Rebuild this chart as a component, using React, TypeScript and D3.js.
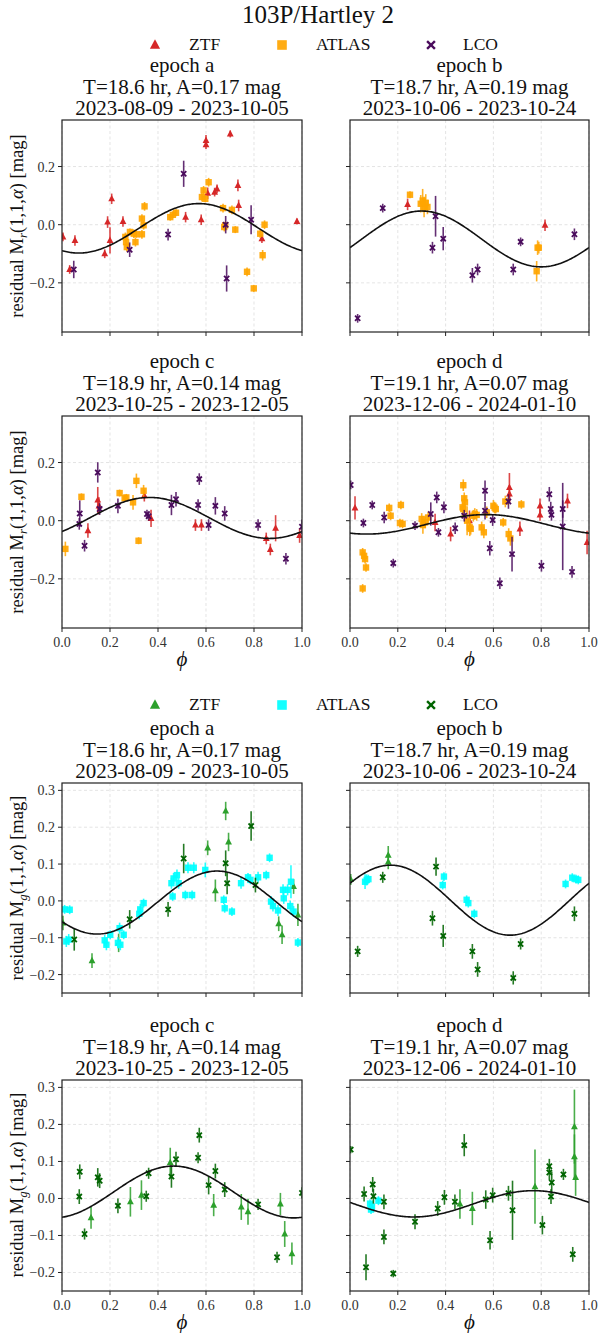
import React from "react";
import * as d3 from "d3";

type Pt = [number, number, number]; // phase, residual mag, error

// ---------- labels ----------
const suptitle = "103P/Hartley 2";
const instruments = ["ZTF", "ATLAS", "LCO"];
const epochNames = ["epoch a", "epoch b", "epoch c", "epoch d"];
const periodLabels = [
  "T=18.6 hr, A=0.17 mag",
  "T=18.7 hr, A=0.19 mag",
  "T=18.9 hr, A=0.14 mag",
  "T=19.1 hr, A=0.07 mag",
];
const dateLabels = [
  "2023-08-09 - 2023-10-05",
  "2023-10-06 - 2023-10-24",
  "2023-10-25 - 2023-12-05",
  "2023-12-06 - 2024-01-10",
];
const xTicks = [0, 0.2, 0.4, 0.6, 0.8, 1.0];
const rYTicks = [-0.2, 0.0, 0.2];
const gYTicks = [-0.2, -0.1, 0.0, 0.1, 0.2, 0.3];
const rYDomain = [-0.369, 0.36];
const gYDomain = [-0.25, 0.32];
const rColors = ["#d62728", "#ffa500", "#4a0b5c"];
const gColors = ["#2ca02c", "#00ffff", "#006400"];

// ---------- model parameters (offset, peak-to-peak amplitude, phase of maximum) ----------
const rModelOffset = [-0.0125, -0.049, 0.0095, -0.0125];
const rModelAmp = [0.17, 0.192, 0.141, 0.067];
const rModelPeak = [0.57, 0.3, 0.365, 0.57];
const gModelOffset = [-0.0045, 0.002, 0.0175, -0.0145];
const gModelAmp = [0.171, 0.19, 0.14, 0.071];
const gModelPeak = [0.646, 0.17, 0.465, 0.767];

// ---------- r band data ----------
const rA_ZTF: Pt[] = [
  [0.004, -0.042, 0.015], [0.032, -0.154, 0.015], [0.054, -0.054, 0.018], [0.178, -0.1, 0.015],
  [0.19, 0.009, 0.02], [0.2, -0.054, 0.045], [0.207, 0.089, 0.018], [0.254, 0.011, 0.018],
  [0.515, 0.026, 0.018], [0.58, 0.017, 0.018], [0.6, 0.29, 0.018], [0.6, 0.275, 0.015],
  [0.607, 0.108, 0.02], [0.636, 0.112, 0.015], [0.646, 0.123, 0.015], [0.701, 0.312, 0.012],
  [0.733, 0.135, 0.02], [0.736, 0.066, 0.02], [0.833, -0.048, 0.015], [0.979, 0.011, 0.01],
];
const rA_ATLAS: Pt[] = [
  [0.264, -0.042, 0.015], [0.267, -0.06, 0.015], [0.27, -0.077, 0.015], [0.283, -0.025, 0.012],
  [0.299, -0.031, 0.015], [0.306, -0.06, 0.015], [0.31, -0.033, 0.012], [0.333, 0.021, 0.015],
  [0.333, -0.033, 0.015], [0.34, -0.002, 0.015], [0.344, 0.063, 0.015], [0.451, 0.026, 0.012],
  [0.462, 0.034, 0.012], [0.475, 0.041, 0.012], [0.583, 0.095, 0.015], [0.59, 0.118, 0.015],
  [0.597, 0.089, 0.012], [0.611, 0.146, 0.015], [0.671, 0.057, 0.015], [0.676, -0.008, 0.015],
  [0.68, -0.002, 0.012], [0.708, 0.051, 0.015], [0.722, -0.017, 0.012], [0.771, -0.162, 0.015],
  [0.799, -0.219, 0.012], [0.826, -0.031, 0.015], [0.836, -0.105, 0.018], [0.844, 0.0, 0.015],
];
const rA_LCO: Pt[] = [
  [0.049, -0.154, 0.03], [0.282, -0.086, 0.025], [0.442, -0.034, 0.02], [0.507, 0.175, 0.045],
  [0.682, 0.0, 0.03], [0.686, -0.185, 0.045], [0.788, 0.017, 0.05],
];
const rB_ZTF: Pt[] = [[0.241, 0.07, 0.02], [0.816, -0.002, 0.02]];
const rB_ATLAS: Pt[] = [
  [0.251, 0.103, 0.012], [0.296, 0.072, 0.03], [0.304, 0.083, 0.04], [0.31, 0.061, 0.035],
  [0.317, 0.075, 0.03], [0.324, 0.061, 0.025], [0.785, -0.079, 0.025], [0.79, -0.079, 0.02],
  [0.781, -0.16, 0.035],
];
const rB_LCO: Pt[] = [
  [0.032, -0.322, 0.015], [0.137, 0.057, 0.015], [0.345, -0.079, 0.02], [0.358, 0.029, 0.07],
  [0.39, -0.048, 0.04], [0.512, -0.174, 0.025], [0.534, -0.154, 0.02], [0.683, -0.154, 0.02],
  [0.714, -0.059, 0.015], [0.939, -0.033, 0.02],
];
const rC_ZTF: Pt[] = [
  [0.108, -0.034, 0.025], [0.149, 0.071, 0.045], [0.154, 0.051, 0.03], [0.343, 0.086, 0.02],
  [0.371, 0.008, 0.03], [0.556, -0.015, 0.02], [0.581, -0.015, 0.02], [0.851, -0.061, 0.02],
  [0.868, -0.099, 0.02], [0.89, -0.026, 0.045], [0.99, -0.051, 0.025],
];
const rC_ATLAS: Pt[] = [
  [0.014, -0.097, 0.025], [0.081, 0.082, 0.012], [0.24, 0.095, 0.012], [0.261, 0.077, 0.012],
  [0.268, 0.08, 0.012], [0.296, 0.063, 0.025], [0.31, 0.137, 0.025], [0.319, -0.069, 0.012],
  [0.34, 0.103, 0.02],
];
const rC_LCO: Pt[] = [
  [0.072, -0.011, 0.02], [0.074, 0.025, 0.045], [0.094, -0.086, 0.02], [0.149, 0.166, 0.035],
  [0.157, 0.04, 0.02], [0.233, 0.051, 0.025], [0.354, 0.023, 0.015], [0.361, 0.015, 0.015],
  [0.456, 0.054, 0.035], [0.475, 0.074, 0.025], [0.567, 0.054, 0.02], [0.572, 0.143, 0.02],
  [0.611, -0.015, 0.02], [0.639, 0.051, 0.03], [0.678, 0.025, 0.025], [0.817, -0.015, 0.02],
  [0.933, -0.131, 0.02], [1.0, -0.021, 0.025],
];
const rD_ZTF: Pt[] = [
  [0.021, 0.044, 0.04], [0.356, -0.006, 0.03], [0.421, -0.046, 0.025], [0.5, 0.0, 0.035],
  [0.667, 0.114, 0.05], [0.667, 0.092, 0.03], [0.711, -0.028, 0.025], [0.795, 0.051, 0.025],
  [0.795, 0.02, 0.02], [0.91, 0.068, 0.025], [0.992, -0.075, 0.04],
];
const rD_ATLAS: Pt[] = [
  [0.053, -0.109, 0.015], [0.059, -0.121, 0.015], [0.063, -0.132, 0.015], [0.067, -0.161, 0.015],
  [0.053, -0.233, 0.015], [0.164, 0.044, 0.015], [0.17, 0.017, 0.015], [0.213, 0.054, 0.015],
  [0.209, -0.008, 0.015], [0.22, -0.011, 0.015], [0.3, 0.006, 0.02], [0.305, -0.015, 0.03],
  [0.314, -0.006, 0.02], [0.327, 0.011, 0.02], [0.474, 0.122, 0.02], [0.478, 0.077, 0.02],
  [0.471, 0.046, 0.03], [0.474, 0.04, 0.02], [0.481, 0.063, 0.02], [0.49, 0.0, 0.05],
  [0.501, -0.023, 0.03], [0.505, -0.028, 0.02], [0.516, 0.017, 0.02], [0.522, 0.023, 0.02],
  [0.53, 0.02, 0.02], [0.551, -0.023, 0.02], [0.56, -0.04, 0.02], [0.572, 0.029, 0.02],
  [0.6, 0.051, 0.02], [0.605, 0.045, 0.02], [0.61, 0.04, 0.015], [0.641, -0.006, 0.015],
  [0.65, 0.066, 0.02], [0.664, -0.046, 0.02], [0.671, -0.061, 0.025], [0.717, 0.056, 0.015],
];
const rD_LCO: Pt[] = [
  [0.003, 0.123, 0.015], [0.056, -0.008, 0.015], [0.093, 0.054, 0.015], [0.143, 0.011, 0.02],
  [0.181, -0.146, 0.015], [0.272, -0.017, 0.015], [0.338, 0.023, 0.04], [0.363, 0.08, 0.02],
  [0.37, -0.04, 0.015], [0.393, 0.046, 0.02], [0.44, -0.026, 0.02], [0.478, 0.017, 0.02],
  [0.565, 0.103, 0.035], [0.565, 0.034, 0.03], [0.585, -0.095, 0.025], [0.597, 0.002, 0.02],
  [0.627, -0.215, 0.02], [0.663, 0.066, 0.025], [0.678, -0.115, 0.06], [0.801, -0.155, 0.02],
  [0.834, 0.091, 0.025], [0.84, 0.04, 0.025], [0.843, 0.02, 0.02], [0.89, 0.04, 0.03],
  [0.89, -0.02, 0.15], [0.929, -0.176, 0.02],
];

// ---------- g band data ----------
const gA_ZTF: Pt[] = [
  [0.004, -0.06, 0.02], [0.125, -0.162, 0.02], [0.236, -0.114, 0.025], [0.607, 0.144, 0.02],
  [0.639, 0.028, 0.03], [0.682, 0.244, 0.025], [0.694, 0.16, 0.025], [0.903, -0.062, 0.02],
  [0.917, -0.092, 0.025], [0.965, 0.039, 0.02], [0.983, -0.038, 0.03],
];
const gA_ATLAS: Pt[] = [
  [0.011, -0.023, 0.012], [0.032, -0.024, 0.012], [0.018, -0.11, 0.015], [0.028, -0.105, 0.015],
  [0.178, -0.107, 0.015], [0.185, -0.119, 0.015], [0.201, -0.092, 0.012], [0.233, -0.114, 0.015],
  [0.243, -0.119, 0.015], [0.24, -0.074, 0.015], [0.257, -0.092, 0.012], [0.322, -0.035, 0.015],
  [0.326, -0.023, 0.015], [0.34, -0.006, 0.012], [0.456, 0.048, 0.015], [0.461, 0.012, 0.012],
  [0.465, 0.061, 0.015], [0.479, 0.07, 0.015], [0.486, 0.048, 0.015], [0.514, 0.016, 0.012],
  [0.525, 0.09, 0.015], [0.542, 0.016, 0.012], [0.549, 0.09, 0.015], [0.597, 0.084, 0.02],
  [0.674, 0.003, 0.012], [0.678, -0.02, 0.012], [0.708, -0.029, 0.012], [0.746, 0.048, 0.015],
  [0.775, 0.064, 0.012], [0.785, 0.057, 0.012], [0.817, 0.064, 0.015], [0.851, 0.07, 0.012],
  [0.865, 0.117, 0.012], [0.871, -0.002, 0.015], [0.879, -0.014, 0.015], [0.9, -0.026, 0.015],
  [0.921, 0.03, 0.015], [0.924, 0.007, 0.015], [0.94, 0.03, 0.015], [0.954, 0.052, 0.045],
  [0.951, -0.014, 0.015], [0.965, -0.029, 0.015], [0.983, -0.113, 0.012],
];
const gA_LCO: Pt[] = [
  [0.051, -0.105, 0.03], [0.282, -0.05, 0.025], [0.442, -0.023, 0.02], [0.507, 0.115, 0.04],
  [0.682, 0.102, 0.035], [0.688, 0.048, 0.03], [0.788, 0.203, 0.04], [0.806, 0.043, 0.02],
];
const gB_ZTF: Pt[] = [[0.003, 0.058, 0.015], [0.16, 0.124, 0.025], [0.16, 0.106, 0.02]];
const gB_ATLAS: Pt[] = [
  [0.063, 0.052, 0.02], [0.07, 0.057, 0.015], [0.077, 0.059, 0.012], [0.388, 0.043, 0.012],
  [0.393, 0.066, 0.012], [0.488, 0.003, 0.012], [0.495, -0.006, 0.012], [0.52, -0.035, 0.012],
  [0.902, 0.046, 0.012], [0.93, 0.063, 0.012], [0.946, 0.059, 0.012], [0.955, 0.057, 0.012],
];
const gB_LCO: Pt[] = [
  [0.032, -0.137, 0.015], [0.137, 0.064, 0.015], [0.345, -0.047, 0.02], [0.36, 0.093, 0.025],
  [0.39, -0.095, 0.03], [0.512, -0.137, 0.02], [0.534, -0.186, 0.02], [0.683, -0.209, 0.018],
  [0.714, -0.117, 0.015], [0.939, -0.035, 0.02],
];
const gC_ZTF: Pt[] = [
  [0.121, -0.052, 0.03], [0.285, -0.009, 0.04], [0.331, 0.009, 0.04], [0.451, 0.097, 0.04],
  [0.632, -0.018, 0.03], [0.747, -0.023, 0.035], [0.775, -0.036, 0.035], [0.91, -0.015, 0.03],
  [0.928, -0.096, 0.035], [0.958, -0.149, 0.03],
];
const gC_ATLAS: Pt[] = [];
const gC_LCO: Pt[] = [
  [0.072, 0.005, 0.02], [0.074, 0.072, 0.02], [0.094, -0.096, 0.015], [0.149, 0.057, 0.025],
  [0.157, 0.048, 0.02], [0.233, -0.02, 0.02], [0.351, 0.006, 0.015], [0.361, 0.068, 0.015],
  [0.456, 0.059, 0.03], [0.475, 0.106, 0.02], [0.567, 0.11, 0.015], [0.572, 0.171, 0.02],
  [0.611, 0.036, 0.025], [0.639, 0.074, 0.02], [0.678, 0.024, 0.02], [0.817, -0.016, 0.015],
  [0.896, -0.159, 0.015], [1.0, 0.015, 0.015],
];
const gD_ZTF: Pt[] = [
  [0.46, -0.015, 0.04], [0.512, -0.027, 0.045], [0.774, 0.032, 0.1], [0.939, 0.194, 0.1],
  [0.939, 0.113, 0.06], [0.944, 0.057, 0.05],
];
const gD_ATLAS: Pt[] = [
  [0.084, -0.014, 0.012], [0.088, -0.03, 0.012], [0.092, -0.022, 0.012], [0.119, -0.006, 0.012],
];
const gD_LCO: Pt[] = [
  [0.003, 0.132, 0.01], [0.059, 0.012, 0.02], [0.067, -0.186, 0.035], [0.095, 0.038, 0.02],
  [0.098, 0.006, 0.02], [0.142, -0.009, 0.02], [0.142, -0.104, 0.02], [0.181, -0.203, 0.01],
  [0.272, -0.063, 0.02], [0.367, -0.027, 0.02], [0.395, 0.003, 0.02], [0.439, -0.009, 0.02],
  [0.478, 0.144, 0.03], [0.568, -0.003, 0.025], [0.586, -0.113, 0.025], [0.597, 0.009, 0.02],
  [0.663, 0.014, 0.02], [0.68, -0.032, 0.08], [0.805, -0.072, 0.025], [0.834, 0.087, 0.02],
  [0.834, 0.07, 0.02], [0.844, 0.043, 0.03], [0.841, 0.005, 0.02], [0.893, 0.065, 0.015],
  [0.932, -0.151, 0.02],
];

const rData: Pt[][][] = [
  [rA_ZTF, rA_ATLAS, rA_LCO],
  [rB_ZTF, rB_ATLAS, rB_LCO],
  [rC_ZTF, rC_ATLAS, rC_LCO],
  [rD_ZTF, rD_ATLAS, rD_LCO],
];
const gData: Pt[][][] = [
  [gA_ZTF, gA_ATLAS, gA_LCO],
  [gB_ZTF, gB_ATLAS, gB_LCO],
  [gC_ZTF, gC_ATLAS, gC_LCO],
  [gD_ZTF, gD_ATLAS, gD_LCO],
];

const FONT = "'Liberation Serif', 'Times New Roman', serif";

function fmtTick(v: number) {
  const s = Math.abs(v).toFixed(1);
  return v < -1e-9 ? "\u2212" + s : s;
}

function Marker({ kind, x, y, color, scale = 1 }: { kind: number; x: number; y: number; color: string; scale?: number }) {
  if (kind === 0) {
    const s = 3.4 * scale;
    return (
      <path
        d={`M${x},${y - s * 1.15} L${x + s},${y + s * 0.75} L${x - s},${y + s * 0.75} Z`}
        fill={color}
      />
    );
  }
  if (kind === 1) {
    const s = 3.2 * scale;
    return <rect x={x - s} y={y - s} width={2 * s} height={2 * s} fill={color} opacity={0.92} />;
  }
  const s = 2.6 * scale;
  return (
    <g stroke={color} strokeWidth={1.8 * Math.min(scale, 1.3)}>
      <line x1={x - s} y1={y - s} x2={x + s} y2={y + s} />
      <line x1={x - s} y1={y + s} x2={x + s} y2={y - s} />
    </g>
  );
}

type PanelProps = {
  x0: number; y0: number; w: number; h: number;
  yDomain: number[]; yTicks: number[];
  showYLabels: boolean; showXLabels: boolean;
  series: Pt[][]; colors: string[];
  off: number; amp: number; peak: number;
  idx: number;
};

function Panel(p: PanelProps) {
  const xs = d3.scaleLinear().domain([0, 1]).range([p.x0, p.x0 + p.w]);
  const ys = d3.scaleLinear().domain(p.yDomain).range([p.y0 + p.h, p.y0]);
  const phases = d3.range(0, 1.0001, 0.005);
  const line = d3
    .line<number>()
    .x((d) => xs(d))
    .y((d) => ys(p.off + (p.amp / 2) * Math.cos(2 * Math.PI * (d - p.peak))));
  const cx = p.x0 + p.w / 2;
  return (
    <g>
      <defs>
        <clipPath id={`clip-${p.x0}-${p.y0}`}>
          <rect x={p.x0} y={p.y0} width={p.w} height={p.h} />
        </clipPath>
      </defs>
      {/* titles */}
      <g fontFamily={FONT} fontSize={21} textAnchor="middle" fill="#111">
        <text x={cx} y={p.y0 - 48}>{epochNames[p.idx]}</text>
        <text x={cx} y={p.y0 - 26.5}>{periodLabels[p.idx]}</text>
        <text x={cx} y={p.y0 - 5}>{dateLabels[p.idx]}</text>
      </g>
      {/* grid */}
      <g stroke="#d8d8d8" strokeWidth={0.7} strokeDasharray="3,2.5">
        {xTicks.map((t) => (
          <line key={"gx" + t} x1={xs(t)} x2={xs(t)} y1={p.y0} y2={p.y0 + p.h} />
        ))}
        {p.yTicks.map((t) => (
          <line key={"gy" + t} x1={p.x0} x2={p.x0 + p.w} y1={ys(t)} y2={ys(t)} />
        ))}
      </g>
      {/* data */}
      <g clipPath={`url(#clip-${p.x0}-${p.y0})`}>
        {p.series.map((pts, k) => (
          <g key={"s" + k}>
            {pts.map((d, i) => (
              <line
                key={"e" + i}
                x1={xs(d[0])}
                x2={xs(d[0])}
                y1={ys(d[1] - d[2])}
                y2={ys(d[1] + d[2])}
                stroke={p.colors[k]}
                strokeWidth={1.6}
                opacity={0.85}
              />
            ))}
            {pts.map((d, i) => (
              <Marker key={"m" + i} kind={k} x={xs(d[0])} y={ys(d[1])} color={p.colors[k]} />
            ))}
          </g>
        ))}
        <path d={line(phases) || ""} fill="none" stroke="#111" strokeWidth={1.6} />
      </g>
      {/* frame */}
      <rect x={p.x0} y={p.y0} width={p.w} height={p.h} fill="none" stroke="#222" strokeWidth={1.2} />
      {/* ticks */}
      <g stroke="#222" strokeWidth={1}>
        {xTicks.map((t) => (
          <line key={"tx" + t} x1={xs(t)} x2={xs(t)} y1={p.y0 + p.h} y2={p.y0 + p.h + 4} />
        ))}
        {p.yTicks.map((t) => (
          <line key={"ty" + t} x1={p.x0 - 4} x2={p.x0} y1={ys(t)} y2={ys(t)} />
        ))}
      </g>
      {p.showXLabels && (
        <g fontFamily={FONT} fontSize={14} fill="#333" textAnchor="middle">
          {xTicks.map((t) => (
            <text key={"lx" + t} x={xs(t)} y={p.y0 + p.h + 19}>{fmtTick(t)}</text>
          ))}
          <text x={cx} y={p.y0 + p.h + 38} fontSize={21} fontStyle="italic" fill="#111">ϕ</text>
        </g>
      )}
      {p.showYLabels && (
        <g fontFamily={FONT} fontSize={14} fill="#333" textAnchor="end">
          {p.yTicks.map((t) => (
            <text key={"ly" + t} x={p.x0 - 7} y={ys(t) + 5}>{fmtTick(t)}</text>
          ))}
        </g>
      )}
    </g>
  );
}

function YLabel({ x, yc, sub }: { x: number; yc: number; sub: string }) {
  return (
    <text
      transform={`translate(${x},${yc}) rotate(-90)`}
      textAnchor="middle"
      fontFamily={FONT}
      fontSize={18.5}
      fill="#111"
    >
      residual M
      <tspan fontStyle="italic" fontSize={13} dy={4}>{sub}</tspan>
      <tspan dy={-4}>(1,1,</tspan>
      <tspan fontStyle="italic">α</tspan>
      <tspan>) [mag]</tspan>
    </text>
  );
}

function Legend({ y, colors }: { y: number; colors: string[] }) {
  const mx = [155, 282, 431];
  const tx = [189, 316, 463];
  return (
    <g>
      {instruments.map((name, k) => (
        <g key={name}>
          <Marker kind={k} x={mx[k]} y={y} color={colors[k]} scale={1.5} />
          <text x={tx[k]} y={y + 5} fontFamily={FONT} fontSize={17.5} fill="#111">{name}</text>
        </g>
      ))}
    </g>
  );
}

export default function App() {
  const cols = [
    { x0: 62, w: 240 },
    { x0: 350, w: 239 },
  ];
  const rRows = [
    { y0: 120, h: 212 },
    { y0: 416, h: 212 },
  ];
  const gRows = [
    { y0: 783, h: 210 },
    { y0: 1080, h: 211 },
  ];
  const panels: JSX.Element[] = [];
  for (let i = 0; i < 4; i++) {
    const c = cols[i % 2];
    const rr = rRows[Math.floor(i / 2)];
    panels.push(
      <Panel
        key={"r" + i}
        idx={i}
        x0={c.x0} w={c.w} y0={rr.y0} h={rr.h}
        yDomain={rYDomain} yTicks={rYTicks}
        showYLabels={i % 2 === 0} showXLabels={i >= 2}
        series={rData[i]} colors={rColors}
        off={rModelOffset[i]} amp={rModelAmp[i]} peak={rModelPeak[i]}
      />
    );
    const gr = gRows[Math.floor(i / 2)];
    panels.push(
      <Panel
        key={"g" + i}
        idx={i}
        x0={c.x0} w={c.w} y0={gr.y0} h={gr.h}
        yDomain={gYDomain} yTicks={gYTicks}
        showYLabels={i % 2 === 0} showXLabels={i >= 2}
        series={gData[i]} colors={gColors}
        off={gModelOffset[i]} amp={gModelAmp[i]} peak={gModelPeak[i]}
      />
    );
  }
  return (
    <svg
      width={600}
      height={1333}
      viewBox="0 0 600 1333"
      style={{ position: "absolute", left: 0, top: 0, background: "#fff" }}
    >
      <rect x={0} y={0} width={600} height={1333} fill="#fff" />
      <text x={318} y={23} textAnchor="middle" fontFamily={FONT} fontSize={25} fill="#111">
        {suptitle}
      </text>
      <Legend y={45} colors={rColors} />
      <Legend y={705} colors={gColors} />
      {panels}
      <YLabel x={23} yc={226} sub="r" />
      <YLabel x={23} yc={522} sub="r" />
      <YLabel x={23} yc={888} sub="g" />
      <YLabel x={23} yc={1185} sub="g" />
    </svg>
  );
}
